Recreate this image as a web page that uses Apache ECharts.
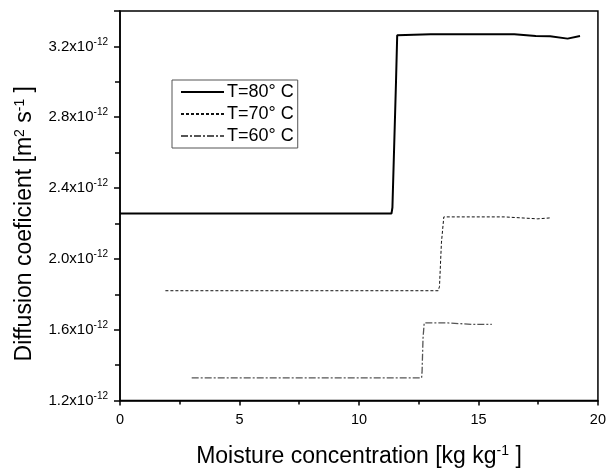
<!DOCTYPE html>
<html>
<head>
<meta charset="utf-8">
<script src="https://cdn.jsdelivr.net/npm/echarts@6/dist/echarts.min.js"></script>
<style>
  html, body { margin: 0; padding: 0; background: #fff; }
  #chart { width: 609px; height: 473px; }
</style>
</head>
<body>
<div id="chart"></div>
<script>
// Moisture concentration [kg kg-1] and diffusion coefficient [x1e-12 m2 s-1]
const moisture80 = [0, 11.36, 11.40, 11.55, 11.60, 13.0, 16.5, 17.4, 18.0, 18.73, 19.25];
const diffusion80 = [2.256, 2.256, 2.29, 3.0, 3.263, 3.268, 3.268, 3.259, 3.257, 3.244, 3.259];

const moisture70 = [1.9, 13.32, 13.37, 13.45, 13.55, 16.09, 17.48, 18.06];
const diffusion70 = [1.82, 1.82, 1.845, 2.09, 2.237, 2.237, 2.226, 2.232];

const moisture60 = [3.0, 12.62, 12.64, 12.68, 12.73, 13.73, 14.77, 15.56];
const diffusion60 = [1.328, 1.328, 1.36, 1.55, 1.638, 1.638, 1.630, 1.630];

const seriesNames = ['T=80\u00b0 C', 'T=70\u00b0 C', 'T=60\u00b0 C'];
const yTicks = [1.2, 1.6, 2.0, 2.4, 2.8, 3.2];
const xTicks = [0, 5, 10, 15, 20];

const pairs = (xs, ys) => xs.map((x, i) => [x, ys[i]]);

const font = 'Liberation Sans, Arial, sans-serif';
const chart = echarts.init(document.getElementById('chart'), null, { renderer: 'canvas' });

chart.setOption({
  backgroundColor: '#fff',
  animation: false,
  grid: {
    left: 120, right: 8, top: 11, bottom: 72,
    show: true, borderColor: '#000', borderWidth: 1.5, backgroundColor: 'transparent'
  },
  legend: {
    show: true,
    orient: 'vertical',
    left: 172, top: 80,
    padding: [3, 4, 3, 8],
    itemGap: 4,
    itemWidth: 43, itemHeight: 14,
    borderColor: '#555', borderWidth: 1,
    itemStyle: { opacity: 0 },
    textStyle: { fontFamily: font, fontSize: 18, color: '#000', padding: [0, 0, 0, -2] },
    data: seriesNames
  },
  xAxis: {
    type: 'value', min: 0, max: 20, interval: 5,
    axisLine: { show: true, lineStyle: { color: '#000', width: 1.5 } },
    axisTick: { show: true, inside: false, length: 5, lineStyle: { color: '#000', width: 1.5 } },
    minorTick: { show: true, splitNumber: 2, length: 4, lineStyle: { color: '#000', width: 1.5 } },
    splitLine: { show: false },
    axisLabel: {
      fontFamily: font, fontSize: 14.5, color: '#000', margin: 12,
      formatter: v => xTicks.includes(v) ? String(v) : ''
    },
    name: 'Moisture concentration [kg kg{s|-1} ]',
    nameLocation: 'middle', nameGap: 44,
    nameTextStyle: {
      fontFamily: font, fontSize: 23, color: '#000',
      rich: { s: { fontFamily: font, fontSize: 14, color: '#000', verticalAlign: 'top', padding: [0, 0, 10, 0] } }
    }
  },
  yAxis: {
    type: 'value', min: 1.2, max: 3.4, interval: 0.4,
    axisLine: { show: true, lineStyle: { color: '#000', width: 1.5 } },
    axisTick: { show: true, inside: false, length: 6, lineStyle: { color: '#000', width: 1.5 } },
    minorTick: { show: true, splitNumber: 2, length: 5, lineStyle: { color: '#000', width: 1.5 } },
    splitLine: { show: false },
    axisLabel: {
      fontFamily: font, fontSize: 15, color: '#000', margin: 12,
      formatter: v => {
        const t = yTicks.find(k => Math.abs(k - v) < 1e-6);
        return t === undefined ? '' : '{a|' + t.toFixed(1) + 'x10}{b|-12}';
      },
      rich: {
        a: { fontFamily: font, fontSize: 15, color: '#000' },
        b: { fontFamily: font, fontSize: 10, color: '#000', verticalAlign: 'top', padding: [0, 0, 9, 0] }
      }
    },
    name: 'Diffusion coeficient [m{s|2} s{s|-1} ]',
    nameLocation: 'middle', nameGap: 83, nameRotate: 90,
    nameTextStyle: {
      fontFamily: font, fontSize: 23, color: '#000', padding: [0, 36, 0, 0],
      rich: { s: { fontFamily: font, fontSize: 14, color: '#000', verticalAlign: 'top', padding: [0, 0, 10, 0] } }
    }
  },
  series: [
    {
      name: seriesNames[0], type: 'line', data: pairs(moisture80, diffusion80),
      symbol: 'none', showSymbol: false,
      lineStyle: { color: '#000', width: 2, type: 'solid' },
      itemStyle: { color: '#000' }
    },
    {
      name: seriesNames[1], type: 'line', data: pairs(moisture70, diffusion70),
      symbol: 'none', showSymbol: false,
      lineStyle: { color: '#111', width: 1, type: [3, 2] },
      itemStyle: { color: '#111' }
    },
    {
      name: seriesNames[2], type: 'line', data: pairs(moisture60, diffusion60),
      symbol: 'none', showSymbol: false,
      lineStyle: { color: '#555', width: 1.3, type: [7, 2, 2, 2] },
      itemStyle: { color: '#555' }
    }
  ]
});
</script>
</body>
</html>
